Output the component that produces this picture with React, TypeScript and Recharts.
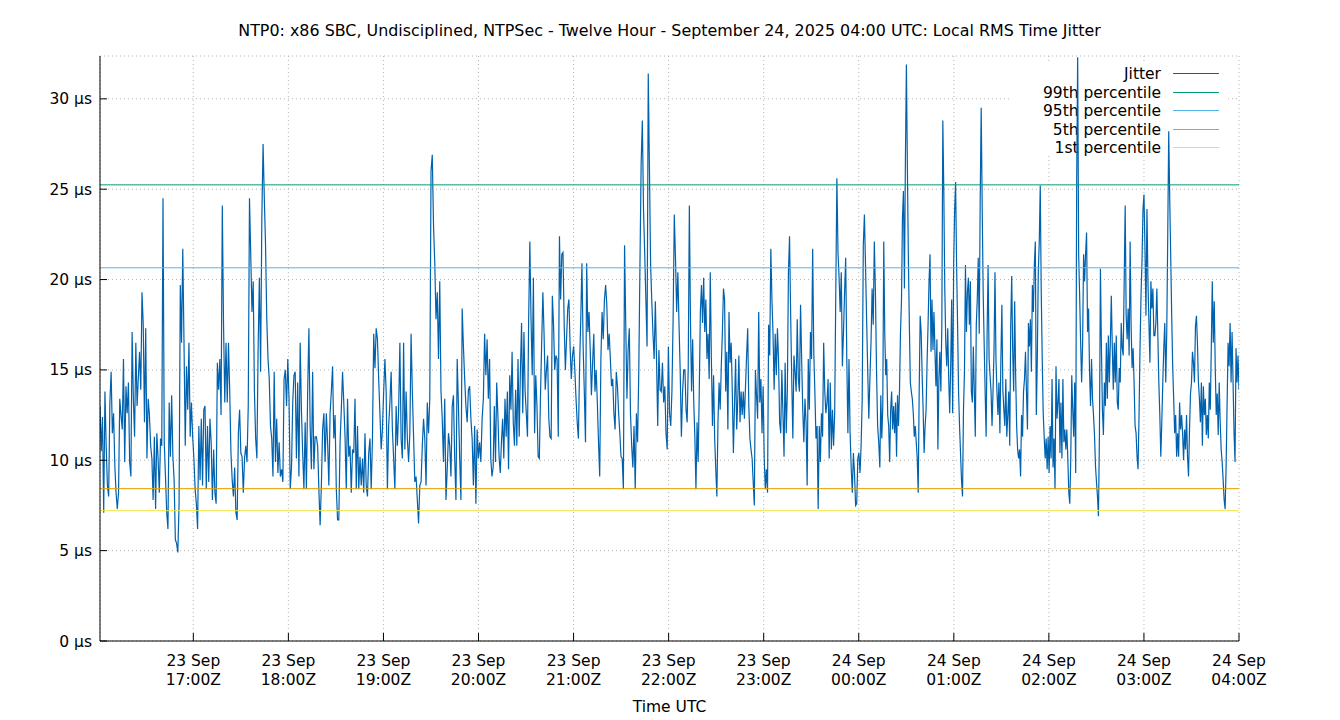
import React from 'react';
import {
  LineChart, Line, XAxis, YAxis, CartesianGrid, ReferenceLine, Customized,
} from 'recharts';

const FONT = '"DejaVu Sans", sans-serif';
const TITLE = 'NTP0: x86 SBC, Undisciplined, NTPSec - Twelve Hour - September 24, 2025 04:00 UTC: Local RMS Time Jitter';

// minutes after 23 Sep 16:00Z where each block of samples starts (last entry = end)
const SEGMENT_STARTS = [1.1, 124.3, 247.0, 370.3, 493.3, 616.3, 720];

// jitter in µs
const jitterA = [
  13.0, 10.5, 12.4, 7.1, 13.8, 10.8, 8.6, 8.0, 13.2, 14.9, 11.5, 12.6, 9.7, 8.2, 7.3, 8.2, 13.4, 12.5, 11.7, 15.6,
  9.9, 14.1, 12.6, 14.3, 9.9, 9.1, 17.1, 13.4, 11.3, 16.5, 13.0, 14.5, 16.0, 13.9, 19.3, 17.5, 12.1, 17.3, 10.1, 13.4,
  12.5, 10.8, 10.1, 7.8, 11.3, 7.3, 11.5, 10.1, 8.2, 11.2, 10.8, 24.5, 11.0, 9.1, 7.1, 6.2, 13.2, 10.2, 13.6, 10.2,
  8.9, 5.6, 5.4, 4.9, 7.6, 19.7, 16.5, 21.7, 16.5, 10.8, 15.2, 12.8, 16.5, 11.3, 13.2, 11.3, 10.1, 8.4, 7.6, 6.2,
  11.9, 8.9, 12.3, 8.6, 12.8, 13.0, 8.4, 11.9, 8.8, 12.3, 11.0, 7.8, 10.6, 8.2, 7.6, 15.4, 13.9, 15.6, 12.5, 24.1,
  17.5, 13.2, 16.5, 13.2, 16.5, 13.8, 10.4, 8.9, 8.0, 9.6, 7.1, 6.7, 11.5, 12.8, 10.4, 10.2, 8.2, 10.1, 10.8, 9.9,
  13.0, 24.5, 21.4, 18.2, 19.9, 13.8, 11.2, 10.1, 16.3, 20.1, 14.9, 23.4, 27.5, 24.5, 21.9, 17.8, 15.6, 14.5, 11.9, 11.2,
  9.1, 14.9, 9.9, 12.3, 9.3, 11.0, 9.1, 9.5, 8.8, 14.5, 15.0, 13.0, 15.6, 13.4, 8.4, 9.6, 13.2, 14.7,
];
const jitterB = [
  14.9, 10.1, 14.3, 9.1, 16.5, 12.8, 10.4, 8.4, 12.1, 8.4, 13.8, 17.3, 11.9, 9.5, 14.9, 9.5, 11.3, 11.3, 10.8, 8.4,
  6.4, 8.6, 11.7, 12.6, 9.9, 12.6, 11.0, 8.6, 12.6, 13.8, 15.2, 11.2, 12.5, 8.4, 6.7, 6.7, 11.0, 12.8, 14.9, 13.2,
  11.3, 8.4, 13.4, 10.2, 10.8, 8.2, 10.6, 10.4, 13.4, 8.4, 11.9, 8.4, 10.2, 8.6, 10.1, 8.2, 11.5, 8.6, 8.0, 10.4,
  11.2, 8.4, 11.2, 17.0, 15.1, 17.3, 16.7, 14.5, 12.6, 10.6, 11.7, 13.8, 15.6, 13.8, 8.4, 11.9, 13.2, 14.9, 11.7, 10.1,
  8.4, 13.0, 10.8, 12.8, 16.5, 11.2, 10.1, 16.5, 10.6, 13.8, 11.2, 9.9, 11.5, 17.0, 13.8, 11.3, 8.8, 9.1, 7.8, 6.5,
  8.6, 8.8, 10.8, 12.3, 11.2, 8.6, 13.2, 11.5, 13.4, 26.0, 26.9, 23.0, 20.9, 17.8, 19.3, 15.6, 19.9, 13.8, 12.3, 9.9,
  13.4, 7.8, 9.5, 11.5, 10.8, 9.1, 13.0, 13.6, 10.1, 7.8, 15.6, 13.0, 10.1, 7.8, 18.4, 16.3, 14.5, 13.0, 12.1, 13.9,
  14.1, 12.3, 11.2, 8.6, 11.9, 7.6, 11.7, 10.1, 11.0, 9.9, 12.3, 13.4, 17.0, 14.7, 16.7, 13.4,
];
const jitterC = [
  15.6, 10.1, 9.1, 9.6, 13.0, 9.9, 14.3, 12.5, 10.2, 9.3, 11.0, 12.3, 10.1, 13.4, 11.3, 13.8, 9.5, 14.7, 12.8, 16.0,
  12.1, 10.8, 13.9, 10.8, 15.6, 11.3, 14.9, 17.6, 12.6, 17.1, 13.8, 12.6, 11.3, 17.8, 22.1, 17.8, 14.7, 20.1, 11.5, 14.7,
  13.0, 10.2, 10.1, 13.6, 16.5, 19.3, 17.0, 13.9, 15.0, 15.8, 12.3, 11.3, 11.2, 19.1, 17.5, 15.0, 15.8, 15.6, 11.3, 22.4,
  18.9, 21.4, 21.5, 17.5, 15.0, 16.7, 18.4, 18.9, 16.3, 14.5, 15.8, 16.3, 15.0, 13.4, 12.1, 11.2, 15.2, 17.8, 20.9, 16.3,
  13.8, 11.0, 20.9, 17.1, 18.2, 16.1, 13.6, 15.4, 17.0, 13.8, 15.0, 13.2, 11.0, 9.1, 15.6, 18.2, 16.7, 18.9, 19.7, 18.6,
  16.1, 17.0, 15.6, 14.1, 14.5, 12.6, 11.7, 14.9, 14.1, 12.6, 11.5, 10.2, 10.1, 8.4, 21.9, 17.5, 13.4, 16.1, 17.3, 12.6,
  10.8, 9.6, 11.9, 8.4, 12.6, 11.0, 14.9, 20.8, 26.4, 28.8, 23.9, 21.5, 18.9, 16.3, 31.4, 26.2, 20.8, 18.8, 17.0, 15.6,
  18.8, 15.6, 11.9, 16.1, 13.9, 13.8, 15.4, 13.2, 14.1, 11.5, 10.6, 16.3, 12.6, 11.9, 13.8, 17.8, 23.6, 21.2, 18.2, 20.4,
  17.5, 14.9, 11.3, 13.8, 15.0,
];
const jitterD = [
  15.0, 12.8, 12.1, 15.2, 24.1, 17.8, 13.8, 16.7, 13.2, 11.3, 8.4, 12.1, 9.9, 13.8, 18.2, 19.7, 17.6, 20.1, 17.1, 18.9,
  15.6, 17.0, 14.5, 20.4, 15.6, 11.9, 14.7, 11.2, 9.5, 8.0, 12.1, 14.3, 12.8, 15.2, 17.1, 19.5, 18.9, 13.8, 16.0, 11.7,
  18.2, 15.4, 16.5, 13.8, 10.4, 13.0, 15.6, 11.7, 13.4, 15.8, 12.1, 13.8, 12.5, 13.8, 12.3, 14.1, 15.8, 17.3, 13.0, 11.2,
  10.6, 10.1, 8.8, 7.5, 15.0, 13.6, 12.3, 18.2, 13.2, 14.5, 11.5, 14.1, 10.1, 8.4, 9.5, 8.2, 17.5, 15.8, 21.7, 18.9,
  17.0, 13.9, 17.0, 14.7, 17.3, 15.6, 12.1, 11.5, 15.0, 12.6, 10.2, 15.4, 11.5, 13.8, 20.4, 22.4, 18.1, 14.5, 11.2, 15.8,
  14.9, 13.8, 17.8, 14.5, 13.8, 18.6, 15.6, 12.8, 11.0, 13.4, 12.1, 8.6, 15.6, 12.8, 17.1, 15.6, 21.7, 16.0, 13.8, 11.2,
  11.9, 7.3, 11.9, 9.9, 12.6, 11.3, 16.5, 13.8, 12.6, 13.2, 14.5, 10.1, 14.3, 10.6, 12.8, 10.8, 12.6, 19.3, 25.6, 21.5,
  20.1, 18.2, 20.4, 15.2, 17.1, 19.3, 21.2, 15.6, 11.5, 15.6, 11.5, 9.6, 8.2, 10.4, 9.3, 7.5, 7.6, 10.1, 10.4, 9.3,
  10.8, 13.4, 21.9, 23.6, 20.8, 17.8, 15.0, 12.3, 14.5, 16.5, 19.5, 17.5, 22.1, 19.3, 15.0, 11.9, 11.0,
];
const jitterE = [
  9.6, 13.6, 11.2, 13.0, 22.1, 17.1, 14.7, 15.6, 12.5, 11.9, 9.9, 12.8, 13.8, 11.7, 13.0, 11.5, 13.2, 10.2, 13.6, 11.9,
  13.9, 17.1, 18.8, 23.4, 24.9, 19.5, 26.7, 31.9, 26.2, 21.2, 17.5, 14.3, 13.8, 13.4, 12.6, 11.3, 11.9, 11.0, 10.1, 8.2,
  13.9, 18.0, 17.1, 14.7, 12.8, 10.4, 11.9, 12.8, 15.4, 17.5, 19.9, 21.4, 16.0, 18.9, 16.1, 18.2, 16.1, 14.1, 16.7, 10.6,
  14.5, 16.0, 13.8, 17.5, 28.8, 24.9, 19.5, 16.5, 15.2, 17.3, 14.5, 12.6, 15.2, 18.9, 12.6, 20.8, 23.8, 25.4, 20.8, 17.5,
  13.8, 11.9, 10.4, 8.9, 8.0, 12.8, 14.9, 20.8, 17.1, 19.3, 20.1, 17.5, 19.9, 13.8, 13.2, 16.3, 13.8, 11.3, 17.5, 18.9,
  21.2, 17.0, 24.5, 29.5, 24.1, 19.3, 16.5, 13.8, 11.3, 17.0, 20.8, 15.6, 14.7, 13.8, 11.9, 13.8, 16.0, 20.4, 15.6, 13.8,
  12.5, 14.3, 11.5, 15.6, 18.6, 13.9, 12.8, 11.9, 14.5, 11.3, 12.5, 13.8, 10.8, 17.5, 20.2, 16.0, 13.8, 18.8, 14.7, 11.9,
  10.6, 10.1, 10.6, 9.1, 12.5, 11.3, 13.8, 14.5, 16.0, 13.8, 11.7, 17.6, 16.3, 17.8, 14.9, 19.7, 18.2, 20.8, 22.1, 12.5,
  15.6, 20.4, 22.1, 25.2, 19.3, 15.6, 12.6, 11.3, 10.1, 11.2, 9.5, 11.3, 9.3, 11.9, 10.1, 14.5, 9.6, 11.2, 8.4, 15.2,
  12.3, 13.2, 14.5, 10.4, 13.2, 10.1, 14.5, 11.0, 11.7, 10.6, 11.7, 10.1, 8.2, 7.6, 10.1, 14.7, 12.8, 11.3,
];
const jitterF = [
  14.3, 9.3, 25.4, 32.3, 21.4, 19.1, 16.5, 14.3, 16.5, 21.4, 19.9, 21.4, 22.6, 17.1, 18.4, 14.9, 13.0, 15.6, 13.4, 12.5,
  11.4, 9.7, 8.8, 8.0, 6.9, 11.5, 20.6, 16.2, 12.8, 11.4, 14.3, 13.0, 16.5, 13.4, 16.9, 14.3, 16.5, 19.1, 16.2, 13.9,
  16.5, 14.3, 16.9, 13.2, 12.8, 15.1, 14.3, 17.6, 16.2, 15.8, 19.9, 24.1, 18.0, 16.7, 18.4, 15.8, 22.1, 17.4, 15.1, 16.2,
  14.3, 11.9, 11.5, 10.2, 9.5, 12.5, 16.2, 19.1, 21.0, 23.9, 24.7, 21.7, 18.0, 23.9, 19.9, 17.6, 15.4, 19.9, 18.4, 19.5,
  16.9, 16.9, 17.6, 19.5, 16.9, 14.3, 12.5, 10.2, 12.1, 14.3, 16.2, 17.6, 14.3, 17.1, 22.4, 28.2, 24.5, 21.3, 18.0, 15.2,
  13.4, 11.5, 12.5, 10.2, 11.5, 10.2, 13.2, 11.7, 12.5, 11.5, 10.0, 11.7, 10.6, 12.5, 10.2, 9.1, 11.7, 13.7, 14.3, 16.0,
  15.4, 14.3, 17.4, 18.0, 16.5, 14.3, 13.4, 12.1, 14.3, 10.8, 14.1, 12.5, 13.4, 11.4, 12.5, 11.2, 14.3, 12.8, 16.2, 19.9,
  16.5, 18.8, 15.1, 12.5, 13.7, 11.4, 14.3, 12.1, 10.6, 9.9, 8.9, 7.8, 7.3, 9.7, 13.2, 16.5, 15.2, 17.6, 14.3, 17.1,
  14.3, 11.5, 9.9, 16.2, 14.3, 15.8, 13.9,
];
const SEGMENTS = [jitterA, jitterB, jitterC, jitterD, jitterE, jitterF];

const PERCENTILE_NAMES = ['99th percentile', '95th percentile', '5th percentile', '1st percentile'];
const PERCENTILE_VALUES = [25.24, 20.65, 8.43, 7.21];
const PERCENTILE_COLORS = ['#009e73', '#56b4e9', '#e69f00', '#f0e442'];
const JITTER_COLOR = '#0062ae';

const Y_TICKS = [0, 5, 10, 15, 20, 25, 30];
const Y_MAX = 32.37;
const X_TICKS = [60, 120, 180, 240, 300, 360, 420, 480, 540, 600, 660, 720];
const X_DAYS = ['23 Sep', '23 Sep', '23 Sep', '23 Sep', '23 Sep', '23 Sep', '23 Sep', '24 Sep', '24 Sep', '24 Sep', '24 Sep', '24 Sep'];
const X_TIMES = ['17:00Z', '18:00Z', '19:00Z', '20:00Z', '21:00Z', '22:00Z', '23:00Z', '00:00Z', '01:00Z', '02:00Z', '03:00Z', '04:00Z'];

const data: { t: number; jitter: number }[] = [];
SEGMENTS.forEach((vals, k) => {
  const t0 = SEGMENT_STARTS[k];
  const t1 = SEGMENT_STARTS[k + 1];
  const last = k === SEGMENTS.length - 1;
  const n = last ? vals.length - 1 : vals.length;
  vals.forEach((v, i) => data.push({ t: t0 + ((t1 - t0) * i) / n, jitter: v }));
});

const FS = 15.5;

const BottomTick = (props: any) => {
  const { x, y, payload } = props;
  const i = X_TICKS.indexOf(payload.value);
  return (
    <g>
      <line x1={x} x2={x} y1={y} y2={y - 8} stroke="#000" strokeWidth={1} />
      <text x={x} y={y + 25} textAnchor="middle" fontFamily={FONT} fontSize={FS} fill="#000">{X_DAYS[i]}</text>
      <text x={x} y={y + 44} textAnchor="middle" fontFamily={FONT} fontSize={FS} fill="#000">{X_TIMES[i]}</text>
    </g>
  );
};

const TopTick = (props: any) => {
  const { x, y } = props;
  return <line x1={x} x2={x} y1={y} y2={y + 8} stroke="#000" strokeWidth={1} />;
};

const LeftTick = (props: any) => {
  const { x, y, payload } = props;
  return (
    <g>
      <line x1={x} x2={x + 7} y1={y} y2={y} stroke="#000" strokeWidth={1} />
      <text x={x - 8} y={y + 5.5} textAnchor="end" fontFamily={FONT} fontSize={FS} fill="#000">{`${payload.value} µs`}</text>
    </g>
  );
};

// white key background: hides the grid but not the data
const KeyBox = () => <rect x={1012} y={64} width={214} height={92} fill="#fff" />;

const KeyAndLabels = () => {
  const names = ['Jitter', ...PERCENTILE_NAMES];
  const colors = [JITTER_COLOR, ...PERCENTILE_COLORS];
  return (
    <g fontFamily={FONT} fill="#000">
      <text x={669.5} y={35.5} textAnchor="middle" fontSize={15.9}>{TITLE}</text>
      <text x={669.5} y={711.5} textAnchor="middle" fontSize={FS}>Time UTC</text>
      {names.map((n, i) => {
        const cy = 73.5 + Math.round(i * 18.5);
        return (
          <g key={n}>
            <text x={1161} y={cy + 5.5} textAnchor="end" fontSize={FS}>{n}</text>
            <line x1={1173} x2={1219} y1={cy} y2={cy} stroke={colors[i]} strokeWidth={1} />
          </g>
        );
      })}
    </g>
  );
};

export default function App() {
  return (
    <div style={{ position: 'absolute', left: 0, top: 0, width: 1340, height: 720, background: '#fff' }}>
      <LineChart width={1340} height={720} data={data} margin={{ top: 56, right: 101, bottom: 0, left: 0 }}>
        <CartesianGrid xAxisId="b" yAxisId="l" stroke="#b4b4b4" strokeDasharray="1 3" />
        <Customized component={KeyBox} />
        <XAxis
          xAxisId="b" dataKey="t" type="number" domain={[1.1, 720]} ticks={X_TICKS} interval={0}
          allowDataOverflow height={79} tickSize={0} tickMargin={0} tick={<BottomTick />}
          axisLine={{ stroke: '#000', strokeWidth: 1 }}
        />
        <XAxis
          xAxisId="t" orientation="top" dataKey="t" type="number" domain={[1.1, 720]} ticks={X_TICKS} interval={0}
          allowDataOverflow height={0} tickSize={0} tickMargin={0} tick={<TopTick />}
          axisLine={{ stroke: '#000', strokeWidth: 1 }}
        />
        <YAxis
          yAxisId="l" type="number" domain={[0, Y_MAX]} ticks={Y_TICKS} interval={0} allowDataOverflow
          width={100} tickSize={0} tickMargin={0} tick={<LeftTick />} axisLine={{ stroke: '#000', strokeWidth: 1 }}
        />
        <YAxis
          yAxisId="r" orientation="right" type="number" domain={[0, Y_MAX]} allowDataOverflow
          width={0} tick={false} tickLine={false} axisLine={{ stroke: '#000', strokeWidth: 1 }}
        />
        <Line
          xAxisId="b" yAxisId="l" type="linear" dataKey="jitter" stroke={JITTER_COLOR} strokeWidth={1.2}
          dot={false} activeDot={false} isAnimationActive={false}
        />
        {PERCENTILE_VALUES.map((v, i) => (
          <ReferenceLine key={PERCENTILE_NAMES[i]} xAxisId="b" yAxisId="l" y={v} stroke={PERCENTILE_COLORS[i]} strokeWidth={1} />
        ))}
        <Customized component={KeyAndLabels} />
      </LineChart>
    </div>
  );
}
